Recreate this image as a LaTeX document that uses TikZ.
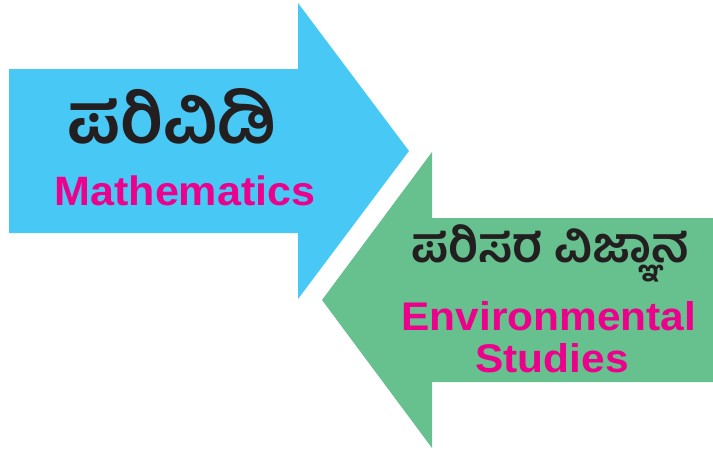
\documentclass[tikz,border=0pt]{standalone}
\usepackage{fontspec}
\setmainfont{Liberation Sans}
\newfontfamily\kannadafont[Script=Kannada]{Hind Mysuru}
\usetikzlibrary{positioning}
\definecolor{mathblue}{HTML}{48C8F5}
\definecolor{evsgreen}{HTML}{66C18E}
\definecolor{labelpink}{HTML}{EC008C}
\definecolor{knblack}{HTML}{231F20}
\tikzset{
  arrowshape/.style={fill=#1,draw=none},
  kntitle/.style={font=\kannadafont\bfseries\fontsize{#1}{#1}\selectfont,text=knblack,inner sep=0pt,anchor=base},
  entitle/.style={font=\bfseries\fontsize{#1}{#1}\selectfont,text=labelpink,inner sep=0pt,anchor=base,xscale=1.05},
}
\begin{document}
\begin{tikzpicture}[x=1pt,y=-1pt]
  \useasboundingbox (0,0) rectangle (713,450);
  % right-pointing arrow
  \fill[arrowshape=mathblue] (9,69) -- (298,69) -- (298,3) -- (409,151)
    -- (298,299) -- (298,233) -- (9,233) -- cycle;
  % left-pointing arrow
  \fill[arrowshape=evsgreen] (713,218) -- (432,218) -- (432,152) -- (322,300)
    -- (432,448) -- (432,382) -- (713,382) -- cycle;
  \node[kntitle=70pt,text depth=0pt] (kmath) at (172,143) {ಪರಿವಿಡಿ};
  \node[entitle=41pt] (math) at (185,205) {Mathematics};
  \node[kntitle=49pt] (kevs) at (550,262) {ಪರಿಸರ ವಿಜ್ಞಾನ};
  \node[entitle=40pt,xscale=1.01] (evs) at (549,330) {Environmental};
  \node[entitle=40pt,xscale=1.01] (stud) at (552,372) {Studies};
\end{tikzpicture}
\end{document}
